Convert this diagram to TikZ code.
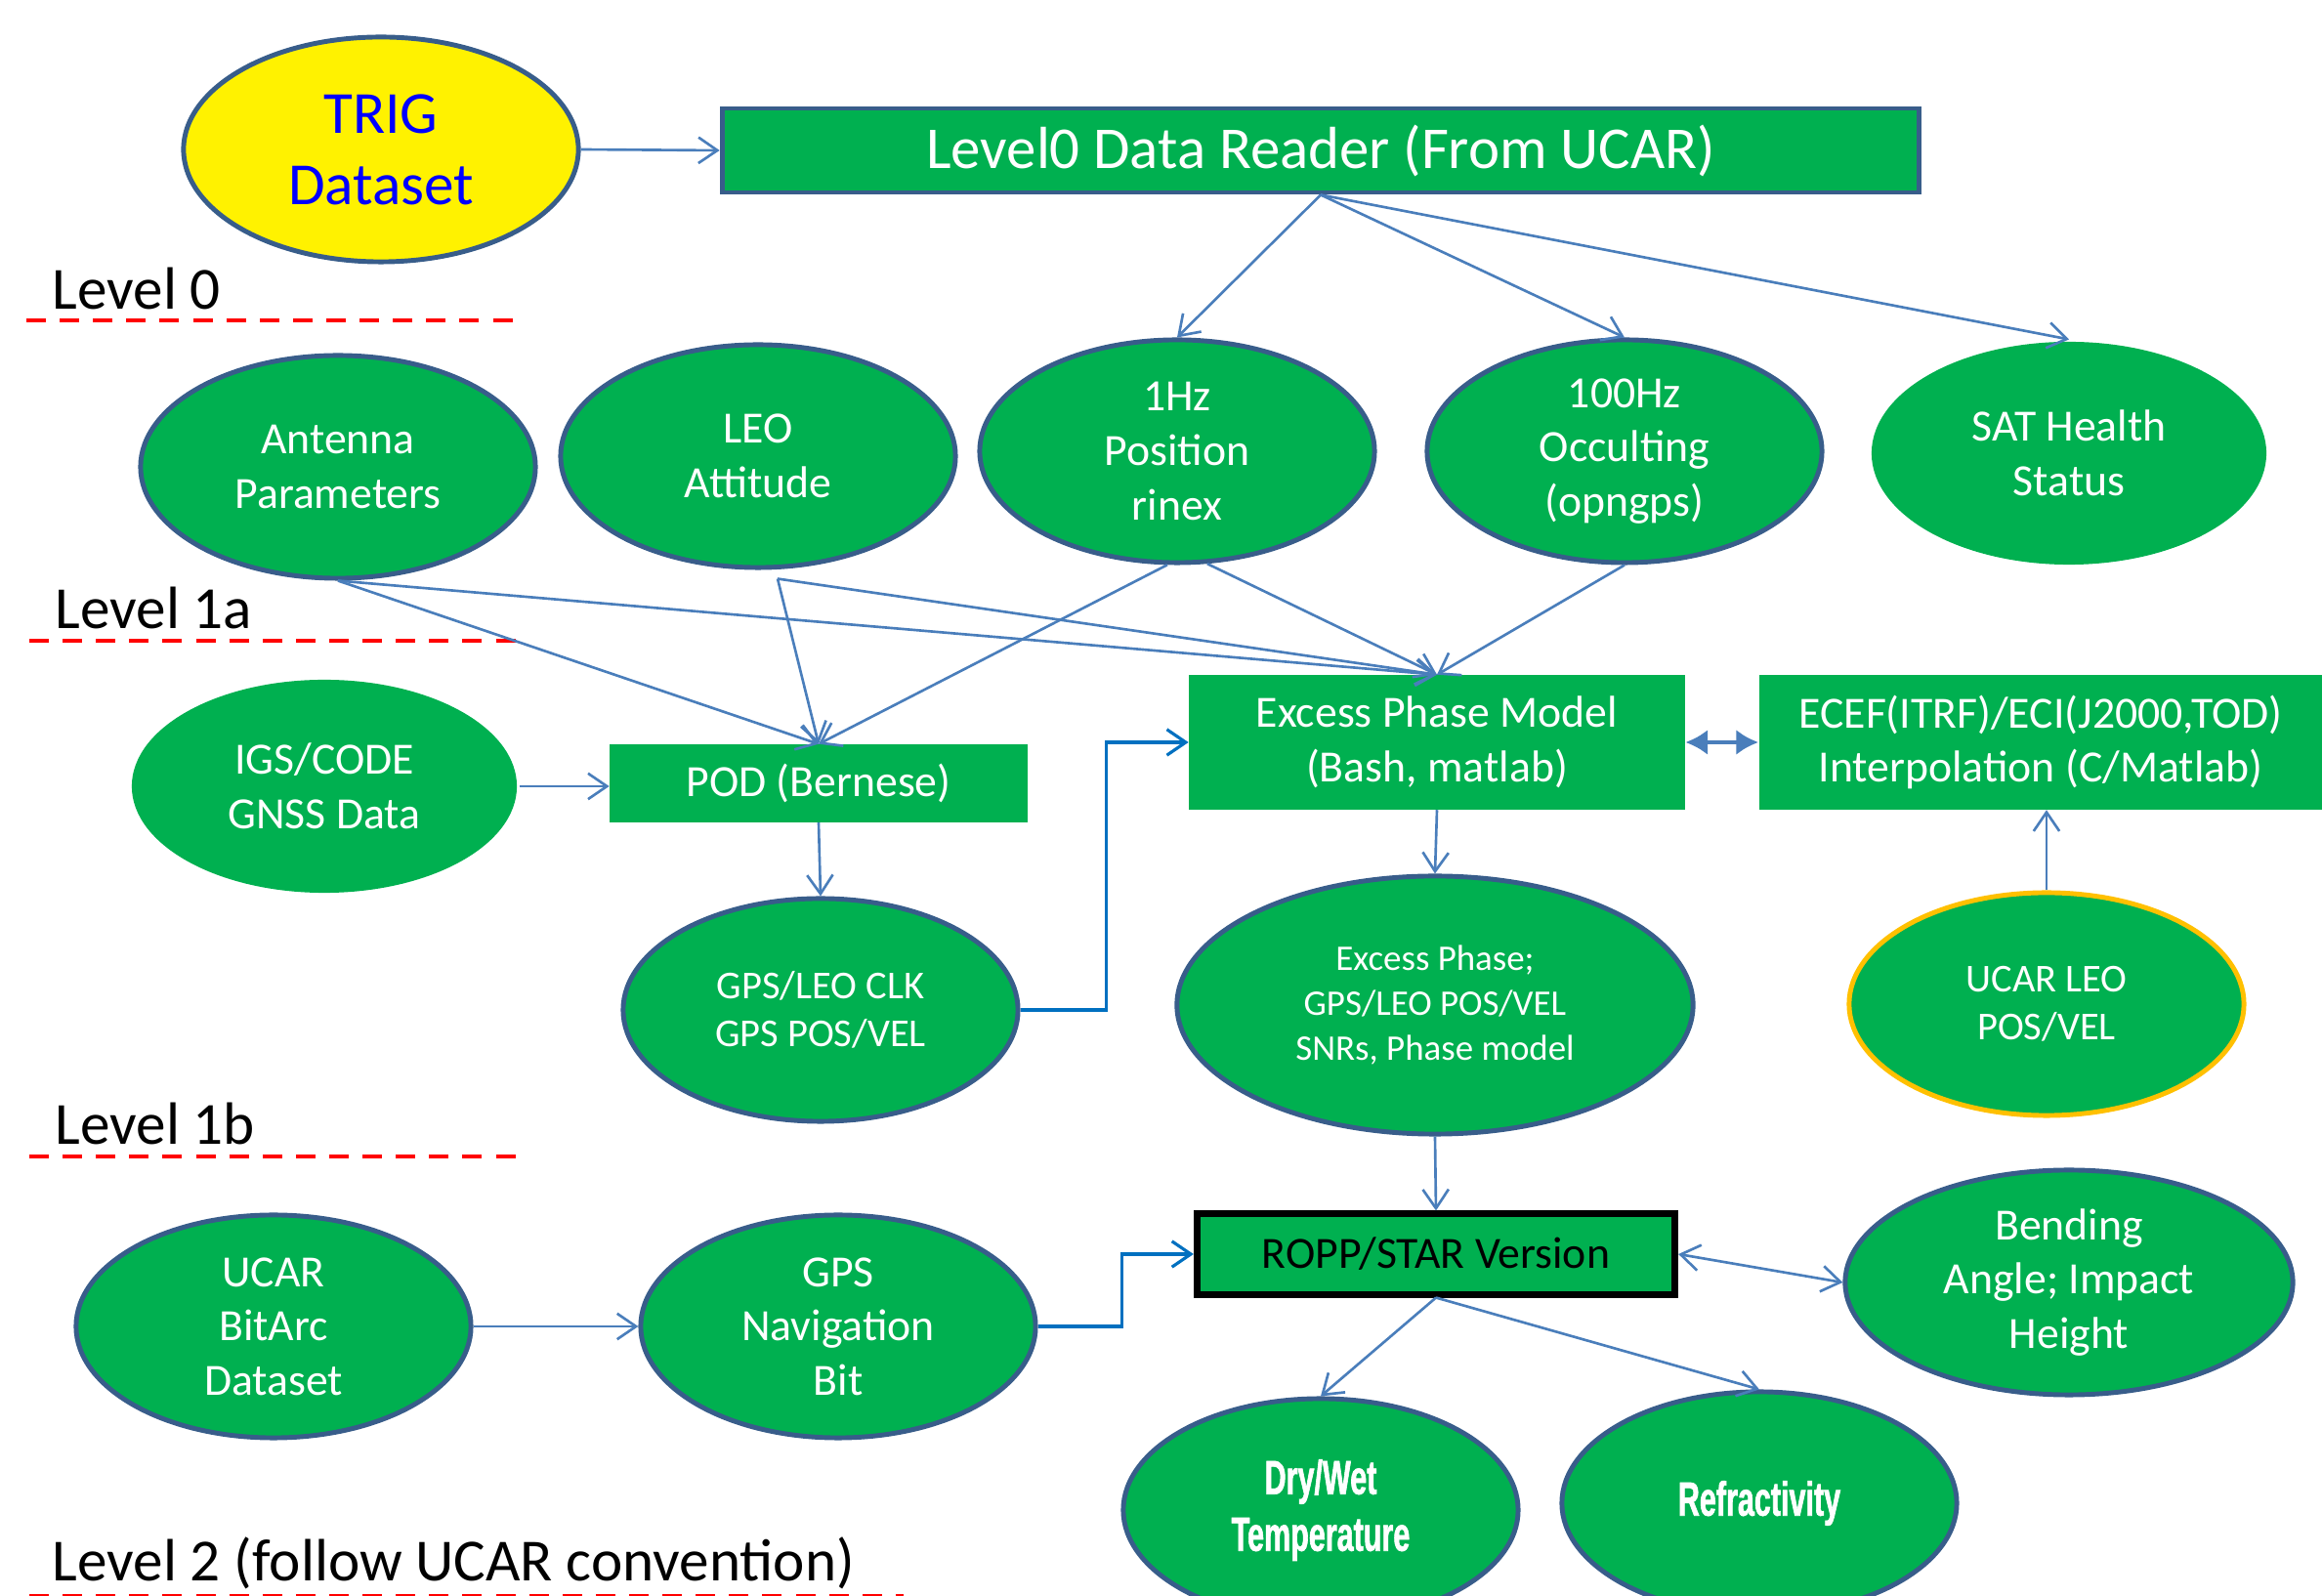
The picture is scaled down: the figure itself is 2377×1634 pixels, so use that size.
\documentclass[tikz,border=0pt]{standalone}
\usepackage{fontspec}
\setmainfont{Carlito}
\newfontfamily\impactfont[FakeStretch=0.62,FakeBold=1.2]{Liberation Sans}
\usetikzlibrary{shapes.geometric,arrows.meta}
\definecolor{okgreen}{RGB}{0,176,80}
\definecolor{rimblue}{RGB}{56,93,138}
\definecolor{linkblue}{RGB}{74,126,187}
\definecolor{elbowblue}{RGB}{0,112,192}
\definecolor{rimorange}{RGB}{255,192,0}
\tikzset{
  oval/.style={ellipse, fill=okgreen, draw=rimblue, line width=1.4pt, text=white, align=center,
    inner sep=0pt, minimum width=4.04cm, minimum height=2.28cm, font=\fontsize{13}{15.8}\selectfont},
  stage/.style={rectangle, fill=okgreen, text=white, align=center, inner sep=0pt,
    font=\fontsize{13}{15.8}\selectfont},
  flow/.style={draw=linkblue, line width=0.75pt, -{Straight Barb[length=5.5pt,width=7.5pt]}},
  elbow/.style={draw=elbowblue, line width=0.9pt, -{Straight Barb[length=5.5pt,width=7.5pt]}},
  lvl/.style={anchor=base west, inner sep=0pt, font=\fontsize{17.4}{20}\selectfont},
  lvlline/.style={red, line width=1.3pt, dash pattern=on 5.7pt off 4pt},
}
\begin{document}
\begin{tikzpicture}[x=0.01cm,y=-0.01cm]
\clip (0,0) rectangle (2377,1634);
% level 0
\node[oval, fill=yellow, text=blue, minimum width=4.04cm, minimum height=2.30cm,
  font=\fontsize{17.4}{20.7}\selectfont] (trig) at (390,153) {TRIG\\Dataset};
\node[stage, draw=rimblue, line width=1.4pt, minimum width=12.25cm, minimum height=0.86cm,
  font=\fontsize{17.3}{20}\selectfont] (reader) at (1352,154) {Level0 Data Reader (From UCAR)};
\node[lvl] at (53,317) {Level 0};
\draw[lvlline] (27,328) -- (526,328);
% level 1a
\node[oval] (ant) at (346,478) {Antenna\\Parameters};
\node[oval] (leo) at (776,467) {LEO\\Attitude};
\node[oval] (hz1) at (1205,462) {1Hz\\Position\\rinex};
\node[oval] (hz100) at (1663,462) {100Hz\\Occulting\\(opngps)};
\node[oval, draw=none] (sat) at (2118,464) {SAT Health\\Status};
\node[lvl] at (56,644) {Level 1a};
\draw[lvlline] (30,656) -- (531,656);
\node[oval, draw=none, minimum width=3.94cm, minimum height=2.18cm] (igs) at (332,805) {IGS/CODE\\GNSS Data};
\node[stage, minimum width=4.27cm, minimum height=0.79cm] (pod) at (838,802) {POD (Bernese)};
\node[stage, minimum width=5.07cm, minimum height=1.37cm] (epm) at (1471,760) {Excess Phase Model\\(Bash, matlab)};
\node[stage, minimum width=5.76cm, minimum height=1.37cm] (ecef) at (2089,760)
  {ECEF(ITRF)/ECI(J2000,TOD)\\Interpolation (C/Matlab)};
\node[oval, font=\fontsize{11.5}{14}\selectfont] (clk) at (840,1034) {GPS/LEO CLK\\GPS POS/VEL};
\node[oval, minimum width=5.28cm, minimum height=2.64cm, font=\fontsize{10.5}{13.2}\selectfont] (exph)
  at (1469,1029) {Excess Phase;\\GPS/LEO POS/VEL\\SNRs, Phase model};
\node[oval, draw=rimorange, font=\fontsize{11.5}{14}\selectfont] (ucarleo) at (2095,1028) {UCAR LEO\\POS/VEL};
% level 1b
\node[lvl] at (56,1172) {Level 1b};
\draw[lvlline] (30,1184) -- (531,1184);
\node[oval] (bitarc) at (280,1358) {UCAR\\BitArc\\Dataset};
\node[oval] (nav) at (858,1358) {GPS\\Navigation\\Bit};
\node[stage, draw=black, line width=2pt, text=black, minimum width=4.89cm, minimum height=0.82cm]
  (ropp) at (1470,1284) {ROPP/STAR Version};
\node[oval, minimum width=4.58cm, minimum height=2.30cm] (bend) at (2118,1313) {Bending\\Angle; Impact\\Height};
\node[oval, font=\impactfont\bfseries\fontsize{14}{16.5}\selectfont] (drywet) at (1352,1546) {Dry/Wet\\Temperature};
\node[oval, font=\impactfont\bfseries\fontsize{14}{16.5}\selectfont] (refr) at (1801,1539) {Refractivity};
% level 2
\node[lvl] at (53,1619) {Level 2 (follow UCAR convention)};
\draw[lvlline] (30,1634) -- (925,1634);
% links
\draw[flow] (trig.east) -- (reader.west);
\draw[flow] (reader.south) -- (hz1.north);
\draw[flow] (reader.south) -- (hz100.north);
\draw[flow] (reader.south) -- (sat.north);
\draw[flow] (ant.south) -- (pod.north);
\draw[flow] (ant.south) -- (epm.north);
\draw[flow] ([shift={(20,9)}]leo.south) -- (pod.north);
\draw[flow] ([shift={(20,9)}]leo.south) -- (epm.north);
\draw[flow] (hz1.-95) -- (pod.north);
\draw[flow] (hz1.-75) -- (epm.north);
\draw[flow] (hz100.south) -- (epm.north);
\draw[flow] (igs.east) -- (igs.east -| pod.west);
\draw[flow] (pod.south) -- (clk.north);
\draw[elbow] (clk.east) -- ++(88,0) |- (epm.west);
\draw[flow] (epm.south) -- (exph.north);
\draw[draw=linkblue, line width=1.3pt, {Latex[length=6.5pt,width=7.5pt]}-{Latex[length=6.5pt,width=7.5pt]}]
  (epm.east) -- (ecef.west);
\draw[flow] (ucarleo.north) -- (ucarleo.north |- ecef.south);
\draw[flow] (exph.south) -- (ropp.north);
\draw[flow] (bitarc.east) -- (nav.west);
\draw[elbow] (nav.east) -- ++(86,0) |- (ropp.west);
\draw[flow, {Straight Barb[length=5.5pt,width=7.5pt]}-{Straight Barb[length=5.5pt,width=7.5pt]}]
  (ropp.east) -- (bend.west);
\draw[flow] (ropp.south) -- (drywet.north);
\draw[flow] (ropp.south) -- (refr.north);
\end{tikzpicture}
\end{document}
